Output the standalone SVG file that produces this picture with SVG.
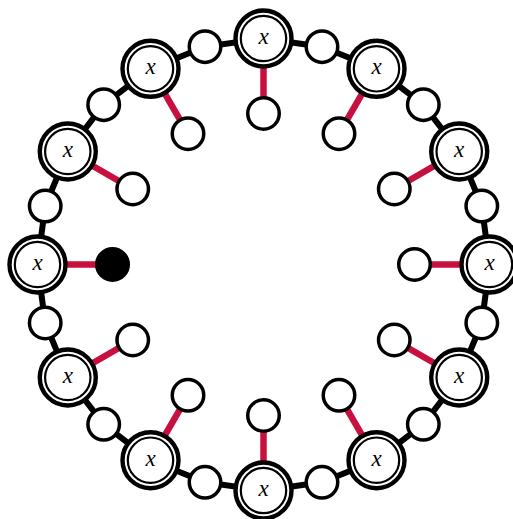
<svg xmlns="http://www.w3.org/2000/svg" width="513" height="519" viewBox="0 0 513 519">
<style>
.ring{fill:none;stroke:#000;stroke-width:6;stroke-linejoin:round}
.red{stroke:#c8103f;stroke-width:6.5}
.xo{fill:#fff;stroke:#000;stroke-width:4.4}
.xi{fill:#fff;stroke:#000;stroke-width:2.2}
.s{fill:#fff;stroke:#000;stroke-width:3.5}
.f{fill:#000;stroke:#000;stroke-width:3.5}
.t{font-family:"Liberation Serif","DejaVu Serif",serif;font-style:italic;font-size:23px;text-anchor:middle}
</style>
<rect width="513" height="519" fill="#fff"/>
<g id="connectors">
<polygon class="ring" points="489.5,264.5 481.8,206.01 459.22,151.5 423.31,104.69 376.5,68.78 321.99,46.7 263.5,38.5 205.01,46.7 150.5,68.78 103.69,104.69 67.78,151.5 45.2,206.01 37.5,264.5 45.2,322.99 67.78,377.5 103.69,424.31 150.5,460.22 205.01,482.3 263.5,490.5 321.99,482.3 376.5,460.22 423.31,424.31 459.22,377.5 481.8,322.99"/>
<line class="red" x1="489.5" y1="264.5" x2="414.5" y2="264.5"/>
<line class="red" x1="459.22" y1="151.5" x2="394.27" y2="189"/>
<line class="red" x1="376.5" y1="68.78" x2="339" y2="133.73"/>
<line class="red" x1="263.5" y1="38.5" x2="263.5" y2="113.5"/>
<line class="red" x1="150.5" y1="68.78" x2="188" y2="133.73"/>
<line class="red" x1="67.78" y1="151.5" x2="132.73" y2="189"/>
<line class="red" x1="37.5" y1="264.5" x2="112.5" y2="264.5"/>
<line class="red" x1="67.78" y1="377.5" x2="132.73" y2="340"/>
<line class="red" x1="150.5" y1="460.22" x2="188" y2="395.27"/>
<line class="red" x1="263.5" y1="490.5" x2="263.5" y2="415.5"/>
<line class="red" x1="376.5" y1="460.22" x2="339" y2="395.27"/>
<line class="red" x1="459.22" y1="377.5" x2="394.27" y2="340"/>
</g>
<g id="x0"><circle class="xo" cx="489.5" cy="264.5" r="28"/><circle class="xi" cx="489.5" cy="264.5" r="22.7"/><text class="t" x="489.5" y="270">x</text></g>
<g id="x30"><circle class="xo" cx="459.22" cy="151.5" r="28"/><circle class="xi" cx="459.22" cy="151.5" r="22.7"/><text class="t" x="459.22" y="157">x</text></g>
<g id="x60"><circle class="xo" cx="376.5" cy="68.78" r="28"/><circle class="xi" cx="376.5" cy="68.78" r="22.7"/><text class="t" x="376.5" y="74.28">x</text></g>
<g id="x90"><circle class="xo" cx="263.5" cy="38.5" r="28"/><circle class="xi" cx="263.5" cy="38.5" r="22.7"/><text class="t" x="263.5" y="44">x</text></g>
<g id="x120"><circle class="xo" cx="150.5" cy="68.78" r="28"/><circle class="xi" cx="150.5" cy="68.78" r="22.7"/><text class="t" x="150.5" y="74.28">x</text></g>
<g id="x150"><circle class="xo" cx="67.78" cy="151.5" r="28"/><circle class="xi" cx="67.78" cy="151.5" r="22.7"/><text class="t" x="67.78" y="157">x</text></g>
<g id="x180"><circle class="xo" cx="37.5" cy="264.5" r="28"/><circle class="xi" cx="37.5" cy="264.5" r="22.7"/><text class="t" x="37.5" y="270">x</text></g>
<g id="x210"><circle class="xo" cx="67.78" cy="377.5" r="28"/><circle class="xi" cx="67.78" cy="377.5" r="22.7"/><text class="t" x="67.78" y="383">x</text></g>
<g id="x240"><circle class="xo" cx="150.5" cy="460.22" r="28"/><circle class="xi" cx="150.5" cy="460.22" r="22.7"/><text class="t" x="150.5" y="465.72">x</text></g>
<g id="x270"><circle class="xo" cx="263.5" cy="490.5" r="28"/><circle class="xi" cx="263.5" cy="490.5" r="22.7"/><text class="t" x="263.5" y="496">x</text></g>
<g id="x300"><circle class="xo" cx="376.5" cy="460.22" r="28"/><circle class="xi" cx="376.5" cy="460.22" r="22.7"/><text class="t" x="376.5" y="465.72">x</text></g>
<g id="x330"><circle class="xo" cx="459.22" cy="377.5" r="28"/><circle class="xi" cx="459.22" cy="377.5" r="22.7"/><text class="t" x="459.22" y="383">x</text></g>
<g id="o15"><circle class="s" cx="481.8" cy="206.01" r="15.75"/></g>
<g id="o45"><circle class="s" cx="423.31" cy="104.69" r="15.75"/></g>
<g id="o75"><circle class="s" cx="321.99" cy="46.7" r="15.75"/></g>
<g id="o105"><circle class="s" cx="205.01" cy="46.7" r="15.75"/></g>
<g id="o135"><circle class="s" cx="103.69" cy="104.69" r="15.75"/></g>
<g id="o165"><circle class="s" cx="45.2" cy="206.01" r="15.75"/></g>
<g id="o195"><circle class="s" cx="45.2" cy="322.99" r="15.75"/></g>
<g id="o225"><circle class="s" cx="103.69" cy="424.31" r="15.75"/></g>
<g id="o255"><circle class="s" cx="205.01" cy="482.3" r="15.75"/></g>
<g id="o285"><circle class="s" cx="321.99" cy="482.3" r="15.75"/></g>
<g id="o315"><circle class="s" cx="423.31" cy="424.31" r="15.75"/></g>
<g id="o345"><circle class="s" cx="481.8" cy="322.99" r="15.75"/></g>
<g id="i0"><circle class="s" cx="414.5" cy="264.5" r="15.75"/></g>
<g id="i30"><circle class="s" cx="394.27" cy="189" r="15.75"/></g>
<g id="i60"><circle class="s" cx="339" cy="133.73" r="15.75"/></g>
<g id="i90"><circle class="s" cx="263.5" cy="113.5" r="15.75"/></g>
<g id="i120"><circle class="s" cx="188" cy="133.73" r="15.75"/></g>
<g id="i150"><circle class="s" cx="132.73" cy="189" r="15.75"/></g>
<g id="i180"><circle class="f" cx="112.5" cy="264.5" r="15.75"/></g>
<g id="i210"><circle class="s" cx="132.73" cy="340" r="15.75"/></g>
<g id="i240"><circle class="s" cx="188" cy="395.27" r="15.75"/></g>
<g id="i270"><circle class="s" cx="263.5" cy="415.5" r="15.75"/></g>
<g id="i300"><circle class="s" cx="339" cy="395.27" r="15.75"/></g>
<g id="i330"><circle class="s" cx="394.27" cy="340" r="15.75"/></g>
</svg>
